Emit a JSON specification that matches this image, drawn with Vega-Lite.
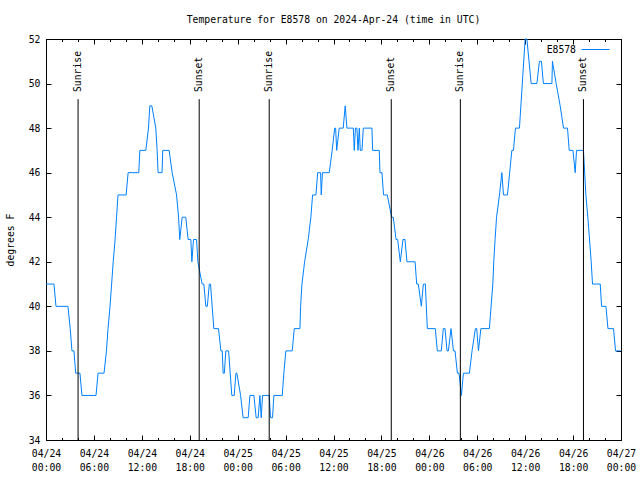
{
  "$schema": "https://vega.github.io/schema/vega-lite/v6.json",
  "width": 575,
  "height": 401,
  "autosize": "none",
  "padding": {"left": 46, "top": 39, "right": 19, "bottom": 40},
  "background": "white",
  "title": {"text": "Temperature for E8578 on 2024-Apr-24 (time in UTC)", "font": "DejaVu Sans Mono", "fontSize": 9.75, "fontWeight": "normal", "color": "black", "anchor": "middle", "offset": 9},
  "config": {"view": {"stroke": "black", "strokeWidth": 1}},
  "datasets": {
    "temp": [
      {"t":"2024-04-24T00:00Z","v":41},{"t":"2024-04-24T01:00Z","v":41},{"t":"2024-04-24T01:15Z","v":40},{"t":"2024-04-24T02:45Z","v":40},
      {"t":"2024-04-24T03:02Z","v":39},{"t":"2024-04-24T03:15Z","v":38},{"t":"2024-04-24T03:30Z","v":38},{"t":"2024-04-24T03:43Z","v":37},
      {"t":"2024-04-24T04:15Z","v":37},{"t":"2024-04-24T04:30Z","v":36},{"t":"2024-04-24T06:16Z","v":36},{"t":"2024-04-24T06:31Z","v":37},
      {"t":"2024-04-24T07:16Z","v":37},{"t":"2024-04-24T07:34Z","v":38},{"t":"2024-04-24T07:46Z","v":39},{"t":"2024-04-24T08:01Z","v":40},
      {"t":"2024-04-24T08:13Z","v":41},{"t":"2024-04-24T08:25Z","v":42},{"t":"2024-04-24T08:39Z","v":43},{"t":"2024-04-24T08:50Z","v":44},
      {"t":"2024-04-24T09:01Z","v":45},{"t":"2024-04-24T10:02Z","v":45},{"t":"2024-04-24T10:17Z","v":46},{"t":"2024-04-24T11:37Z","v":46},
      {"t":"2024-04-24T11:45Z","v":47},{"t":"2024-04-24T12:30Z","v":47},{"t":"2024-04-24T12:50Z","v":48},{"t":"2024-04-24T13:00Z","v":49},
      {"t":"2024-04-24T13:15Z","v":49},{"t":"2024-04-24T13:45Z","v":48},{"t":"2024-04-24T13:55Z","v":47},{"t":"2024-04-24T14:02Z","v":46},
      {"t":"2024-04-24T14:32Z","v":46},{"t":"2024-04-24T14:37Z","v":47},{"t":"2024-04-24T15:25Z","v":47},{"t":"2024-04-24T15:48Z","v":46},
      {"t":"2024-04-24T16:21Z","v":45},{"t":"2024-04-24T16:36Z","v":44},{"t":"2024-04-24T16:45Z","v":43},{"t":"2024-04-24T17:03Z","v":44},
      {"t":"2024-04-24T17:30Z","v":44},{"t":"2024-04-24T17:48Z","v":43},{"t":"2024-04-24T18:08Z","v":43},{"t":"2024-04-24T18:16Z","v":42},
      {"t":"2024-04-24T18:28Z","v":43},{"t":"2024-04-24T18:51Z","v":43},{"t":"2024-04-24T19:01Z","v":42},{"t":"2024-04-24T19:33Z","v":41},
      {"t":"2024-04-24T19:46Z","v":41},{"t":"2024-04-24T20:01Z","v":40},{"t":"2024-04-24T20:12Z","v":40},{"t":"2024-04-24T20:27Z","v":41},
      {"t":"2024-04-24T20:36Z","v":41},{"t":"2024-04-24T21:01Z","v":39},{"t":"2024-04-24T21:36Z","v":39},{"t":"2024-04-24T21:54Z","v":38},
      {"t":"2024-04-24T22:04Z","v":38},{"t":"2024-04-24T22:11Z","v":37},{"t":"2024-04-24T22:20Z","v":37},{"t":"2024-04-24T22:31Z","v":38},
      {"t":"2024-04-24T22:52Z","v":38},{"t":"2024-04-24T23:16Z","v":36},{"t":"2024-04-24T23:34Z","v":36},{"t":"2024-04-24T23:47Z","v":37},
      {"t":"2024-04-24T23:54Z","v":37},
      {"t":"2024-04-25T00:22Z","v":36},{"t":"2024-04-25T00:41Z","v":35},{"t":"2024-04-25T01:19Z","v":35},{"t":"2024-04-25T01:32Z","v":36},
      {"t":"2024-04-25T02:02Z","v":36},{"t":"2024-04-25T02:19Z","v":35},{"t":"2024-04-25T02:34Z","v":35},{"t":"2024-04-25T02:47Z","v":36},
      {"t":"2024-04-25T02:57Z","v":35},{"t":"2024-04-25T03:07Z","v":36},{"t":"2024-04-25T03:57Z","v":36},{"t":"2024-04-25T04:07Z","v":35},
      {"t":"2024-04-25T04:22Z","v":35},{"t":"2024-04-25T04:32Z","v":36},{"t":"2024-04-25T05:35Z","v":36},{"t":"2024-04-25T05:47Z","v":37},
      {"t":"2024-04-25T06:02Z","v":38},{"t":"2024-04-25T06:50Z","v":38},{"t":"2024-04-25T07:05Z","v":39},{"t":"2024-04-25T07:48Z","v":39},
      {"t":"2024-04-25T07:53Z","v":40},{"t":"2024-04-25T08:03Z","v":41},{"t":"2024-04-25T08:23Z","v":42},{"t":"2024-04-25T08:50Z","v":43},
      {"t":"2024-04-25T09:10Z","v":44},{"t":"2024-04-25T09:23Z","v":45},{"t":"2024-04-25T09:48Z","v":45},{"t":"2024-04-25T10:01Z","v":46},
      {"t":"2024-04-25T10:23Z","v":46},{"t":"2024-04-25T10:28Z","v":45},{"t":"2024-04-25T10:37Z","v":46},{"t":"2024-04-25T11:28Z","v":46},
      {"t":"2024-04-25T11:50Z","v":47},{"t":"2024-04-25T12:09Z","v":48},{"t":"2024-04-25T12:16Z","v":48},{"t":"2024-04-25T12:24Z","v":47},
      {"t":"2024-04-25T12:43Z","v":48},{"t":"2024-04-25T13:13Z","v":48},{"t":"2024-04-25T13:28Z","v":49},{"t":"2024-04-25T13:41Z","v":48},
      {"t":"2024-04-25T14:29Z","v":48},{"t":"2024-04-25T14:36Z","v":47},{"t":"2024-04-25T14:45Z","v":48},{"t":"2024-04-25T14:56Z","v":48},
      {"t":"2024-04-25T15:04Z","v":47},{"t":"2024-04-25T15:14Z","v":48},{"t":"2024-04-25T15:21Z","v":47},{"t":"2024-04-25T15:34Z","v":47},
      {"t":"2024-04-25T15:44Z","v":48},{"t":"2024-04-25T16:49Z","v":48},{"t":"2024-04-25T16:54Z","v":47},{"t":"2024-04-25T17:44Z","v":47},
      {"t":"2024-04-25T17:49Z","v":46},{"t":"2024-04-25T18:04Z","v":46},{"t":"2024-04-25T18:16Z","v":45},{"t":"2024-04-25T18:44Z","v":45},
      {"t":"2024-04-25T19:17Z","v":44},{"t":"2024-04-25T19:29Z","v":44},{"t":"2024-04-25T19:50Z","v":43},{"t":"2024-04-25T20:02Z","v":43},
      {"t":"2024-04-25T20:22Z","v":42},{"t":"2024-04-25T20:42Z","v":43},{"t":"2024-04-25T20:57Z","v":43},{"t":"2024-04-25T21:12Z","v":42},
      {"t":"2024-04-25T22:13Z","v":42},{"t":"2024-04-25T22:25Z","v":41},{"t":"2024-04-25T22:37Z","v":41},{"t":"2024-04-25T23:00Z","v":40},
      {"t":"2024-04-25T23:15Z","v":41},{"t":"2024-04-25T23:30Z","v":41},{"t":"2024-04-25T23:45Z","v":39},
      {"t":"2024-04-26T00:45Z","v":39},{"t":"2024-04-26T01:00Z","v":38},{"t":"2024-04-26T01:30Z","v":38},{"t":"2024-04-26T01:45Z","v":39},
      {"t":"2024-04-26T01:58Z","v":39},{"t":"2024-04-26T02:13Z","v":38},{"t":"2024-04-26T02:23Z","v":38},{"t":"2024-04-26T02:43Z","v":39},
      {"t":"2024-04-26T03:01Z","v":38},{"t":"2024-04-26T03:13Z","v":38},{"t":"2024-04-26T03:31Z","v":37},{"t":"2024-04-26T03:43Z","v":37},
      {"t":"2024-04-26T04:01Z","v":36},{"t":"2024-04-26T04:16Z","v":37},{"t":"2024-04-26T05:01Z","v":37},{"t":"2024-04-26T05:21Z","v":38},
      {"t":"2024-04-26T05:46Z","v":39},{"t":"2024-04-26T05:56Z","v":39},{"t":"2024-04-26T06:09Z","v":38},{"t":"2024-04-26T06:27Z","v":39},
      {"t":"2024-04-26T07:31Z","v":39},{"t":"2024-04-26T07:57Z","v":41},{"t":"2024-04-26T08:04Z","v":42},{"t":"2024-04-26T08:14Z","v":43},
      {"t":"2024-04-26T08:25Z","v":44},{"t":"2024-04-26T08:47Z","v":45},{"t":"2024-04-26T09:05Z","v":46},{"t":"2024-04-26T09:17Z","v":45},
      {"t":"2024-04-26T09:47Z","v":45},{"t":"2024-04-26T10:20Z","v":47},{"t":"2024-04-26T10:32Z","v":47},{"t":"2024-04-26T10:47Z","v":48},
      {"t":"2024-04-26T11:17Z","v":48},{"t":"2024-04-26T12:00Z","v":52},{"t":"2024-04-26T12:13Z","v":52},{"t":"2024-04-26T12:45Z","v":50},
      {"t":"2024-04-26T13:28Z","v":50},{"t":"2024-04-26T13:47Z","v":51},{"t":"2024-04-26T14:02Z","v":51},{"t":"2024-04-26T14:17Z","v":50},
      {"t":"2024-04-26T15:21Z","v":50},{"t":"2024-04-26T15:25Z","v":51},{"t":"2024-04-26T15:53Z","v":50},{"t":"2024-04-26T16:23Z","v":49},
      {"t":"2024-04-26T16:48Z","v":48},{"t":"2024-04-26T17:18Z","v":48},{"t":"2024-04-26T17:31Z","v":47},{"t":"2024-04-26T17:59Z","v":47},
      {"t":"2024-04-26T18:16Z","v":46},{"t":"2024-04-26T18:26Z","v":47},{"t":"2024-04-26T19:18Z","v":47},{"t":"2024-04-26T19:36Z","v":45},
      {"t":"2024-04-26T19:51Z","v":44},{"t":"2024-04-26T20:16Z","v":42},{"t":"2024-04-26T20:26Z","v":41},{"t":"2024-04-26T21:24Z","v":41},
      {"t":"2024-04-26T21:34Z","v":40},{"t":"2024-04-26T22:07Z","v":40},{"t":"2024-04-26T22:22Z","v":39},{"t":"2024-04-26T23:04Z","v":39},
      {"t":"2024-04-26T23:19Z","v":38},{"t":"2024-04-26T23:56Z","v":38}
    ],
    "events": [
      {"t":"2024-04-24T04:01Z","label":"Sunrise"},
      {"t":"2024-04-24T19:11Z","label":"Sunset"},
      {"t":"2024-04-25T03:57Z","label":"Sunrise"},
      {"t":"2024-04-25T19:14Z","label":"Sunset"},
      {"t":"2024-04-26T03:53Z","label":"Sunrise"},
      {"t":"2024-04-26T19:18Z","label":"Sunset"}
    ]
  },
  "layer": [
    {
      "data": {"name": "temp"},
      "mark": {"type": "line", "strokeWidth": 1, "interpolate": "linear"},
      "encoding": {
        "x": {"field": "t", "type": "temporal",
          "scale": {"type": "utc", "domain": [1713916800000, 1714176000000]},
          "axis": {"orient": "bottom", "title": null, "grid": false,
            "values": [1713916800000,1713938400000,1713960000000,1713981600000,1714003200000,1714024800000,1714046400000,1714068000000,1714089600000,1714111200000,1714132800000,1714154400000,1714176000000],
            "tickSize": -5, "tickColor": "black", "domainColor": "black",
            "labelExpr": "[utcFormat(datum.value, '%m/%d'), utcFormat(datum.value, '%H:%M')]",
            "labelFont": "DejaVu Sans Mono", "labelFontSize": 9.75, "labelColor": "black", "labelPadding": 13,
            "labelLineHeight": 14, "labelBaseline": "top", "labelFlush": false, "labelOverlap": false, "labelBound": false}},
        "y": {"field": "v", "type": "quantitative",
          "scale": {"domain": [34, 52], "nice": false, "zero": false},
          "axis": {"orient": "left", "title": "degrees F", "grid": false, "values": [34, 36, 38, 40, 42, 44, 46, 48, 50, 52],
            "tickSize": -5, "tickColor": "black", "domainColor": "black",
            "labelFont": "DejaVu Sans Mono", "labelFontSize": 9.75, "labelColor": "black", "labelPadding": 11,
            "titleFont": "DejaVu Sans Mono", "titleFontSize": 9.75, "titleFontWeight": "normal", "titleColor": "black", "titlePadding": 13}},
        "color": {"datum": "E8578", "type": "nominal", "scale": {"range": ["#0080ff"]},
          "legend": {"orient": "none", "legendX": 535, "legendY": -4, "title": null, "padding": 0,
            "symbolType": "stroke", "symbolSize": 784, "symbolStrokeWidth": 1, "symbolOffset": 0,
            "labelOffset": -34, "labelAlign": "right", "labelFont": "DejaVu Sans Mono", "labelFontSize": 9.75, "labelColor": "black"}}
      }
    },
    {
      "data": {"name": "events"},
      "mark": {"type": "rule", "color": "black", "strokeWidth": 1},
      "encoding": {
        "x": {"field": "t", "type": "temporal",
          "axis": {"orient": "bottom", "title": null, "grid": false,
            "values": [1713916800000,1713924000000,1713931200000,1713938400000,1713945600000,1713952800000,1713960000000,1713967200000,1713974400000,1713981600000,1713988800000,1713996000000,1714003200000,1714010400000,1714017600000,1714024800000,1714032000000,1714039200000,1714046400000,1714053600000,1714060800000,1714068000000,1714075200000,1714082400000,1714089600000,1714096800000,1714104000000,1714111200000,1714118400000,1714125600000,1714132800000,1714140000000,1714147200000,1714154400000,1714161600000,1714168800000,1714176000000],
            "tickSize": -2.5, "tickColor": "black", "labels": false, "domain": false}},
        "y": {"datum": 34, "type": "quantitative",
          "axis": {"orient": "right", "title": null, "grid": false, "values": [34, 36, 38, 40, 42, 44, 46, 48, 50, 52],
            "tickSize": -5, "tickColor": "black", "domainColor": "black", "labels": false}},
        "y2": {"datum": 49.3}
      }
    },
    {
      "data": {"name": "events"},
      "mark": {"type": "text", "angle": 270, "align": "left", "baseline": "middle", "font": "DejaVu Sans Mono", "fontSize": 9.75, "color": "black"},
      "encoding": {
        "x": {"field": "t", "type": "temporal",
          "axis": {"orient": "top", "title": null, "grid": false,
            "values": [1713916800000,1713938400000,1713960000000,1713981600000,1714003200000,1714024800000,1714046400000,1714068000000,1714089600000,1714111200000,1714132800000,1714154400000,1714176000000],
            "tickSize": -5, "tickColor": "black", "domainColor": "black", "labels": false}},
        "y": {"datum": 49.62, "type": "quantitative", "axis": null},
        "text": {"field": "label", "type": "nominal"}
      }
    },
    {
      "data": {"name": "events"},
      "mark": {"type": "point", "opacity": 0},
      "encoding": {
        "x": {"field": "t", "type": "temporal",
          "axis": {"orient": "top", "title": null, "grid": false,
            "values": [1713916800000,1713924000000,1713931200000,1713938400000,1713945600000,1713952800000,1713960000000,1713967200000,1713974400000,1713981600000,1713988800000,1713996000000,1714003200000,1714010400000,1714017600000,1714024800000,1714032000000,1714039200000,1714046400000,1714053600000,1714060800000,1714068000000,1714075200000,1714082400000,1714089600000,1714096800000,1714104000000,1714111200000,1714118400000,1714125600000,1714132800000,1714140000000,1714147200000,1714154400000,1714161600000,1714168800000,1714176000000],
            "tickSize": -2.5, "tickColor": "black", "labels": false, "domain": false}},
        "y": {"datum": 40, "type": "quantitative", "axis": null}
      }
    }
  ],
  "resolve": {"axis": {"x": "independent", "y": "independent"}}
}
